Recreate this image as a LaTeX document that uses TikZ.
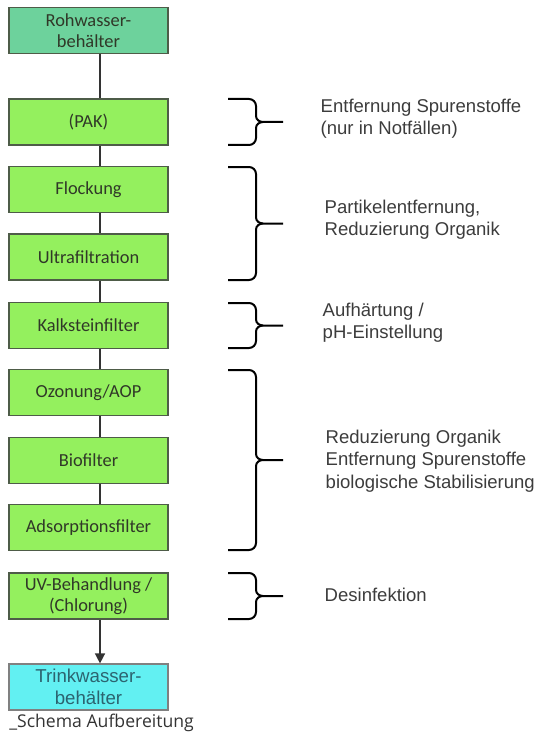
\documentclass[tikz,border=0pt]{standalone}
\usepackage{fontspec}
\setmainfont{Carlito}
\newfontfamily\arialfont{Liberation Sans}
\newfontfamily\capfont{Open Sans}
\usepackage{xcolor}
\usepackage{tikz}
\usetikzlibrary{arrows.meta}
\definecolor{wroh}{HTML}{6DD29C}
\definecolor{wstep}{HTML}{94F05E}
\definecolor{wtrink}{HTML}{62F0F2}
\definecolor{wedge}{HTML}{4E5C48}
\definecolor{wtext}{HTML}{303828}
\definecolor{wteal}{HTML}{2C6470}
\definecolor{wnote}{HTML}{3C3C3C}
\tikzset{
  wbox/.style={draw=wedge, line width=0.9pt, fill=wstep, text=wtext,
               minimum width=119.25pt, minimum height=34.5pt, inner sep=0pt,
               align=center, font=\fontsize{13.8}{15.75}\selectfont},
  wline/.style={draw=black!80, line width=1.1pt},
  wbrace/.style={draw=black, line width=1.5pt},
  wnotes/.style={anchor=west, align=left, text=wnote,
                 font=\arialfont\fontsize{13.9}{16.8}\selectfont},
}
% geschweifte Klammer von y=#1 bis y=#2
\newcommand{\wklammer}[2]{%
  \draw[wbrace] (228,#1) -- (249,#1) to[out=0,in=90] (256,{#1+7})
    -- (256,{(#1+#2)/2-6}) to[out=-90,in=180] (263,{(#1+#2)/2}) -- (283,{(#1+#2)/2});
  \draw[wbrace] (228,#2) -- (249,#2) to[out=0,in=-90] (256,{#2-7})
    -- (256,{(#1+#2)/2+6}) to[out=90,in=180] (263,{(#1+#2)/2});
}

\begin{document}
\begin{tikzpicture}[x=0.75pt,y=-0.75pt]

  \useasboundingbox (0,0) rectangle (533,738);

  % Verfahrensstufen
  \node[wbox, fill=wroh] (roh) at (88.5,30.5) {Rohwasser-\\behälter};
  \node[wbox] (pak)   at (88.5,122)   {(PAK)};
  \node[wbox] (flock) at (88.5,189.5) {Flockung};
  \node[wbox] (ultra) at (88.5,257)   {Ultrafiltration};
  \node[wbox] (kalk)  at (88.5,325.5) {Kalksteinfilter};
  \node[wbox] (ozon)  at (88.5,392.5) {Ozonung/AOP};
  \node[wbox] (bio)   at (88.5,460.5) {Biofilter};
  \node[wbox] (ads)   at (88.5,527.5) {Adsorptionsfilter};
  \node[wbox] (uv)    at (88.5,596)   {UV-Behandlung /\\(Chlorung)};
  \node[wbox, fill=wtrink, draw=gray, text=wteal,
        font=\arialfont\fontsize{14}{16.5}\selectfont] (trink) at (88.5,687) {Trinkwasser-\\behälter};

  % Verbindungen
  \coordinate (xl) at (100,0);
  \foreach \a/\b in {roh/pak, pak/flock, flock/ultra, ultra/kalk, kalk/ozon, ozon/bio, bio/ads}
    \draw[wline] (\a.south -| xl) -- (\b.north -| xl);
  \draw[wline, -{Triangle[length=7.5pt,width=7.5pt]}] (uv.south -| xl) -- (trink.north -| xl);

  % Klammern
  \wklammer{99}{145}
  \wklammer{167}{280}
  \wklammer{303}{348}
  \wklammer{370}{550}
  \wklammer{573}{619}

  % Erläuterungen
  \node[wnotes] (n1) at (316,119) {Entfernung Spurenstoffe\\(nur in Notfällen)};
  \node[wnotes] (n2) at (320,220) {Partikelentfernung,\\Reduzierung Organik};
  \node[wnotes] (n3) at (318,322.5) {Aufhärtung /\\pH-Einstellung};
  \node[wnotes] (n4) at (321,461) {Reduzierung Organik\\Entfernung Spurenstoffe\\biologische Stabilisierung};
  \node[wnotes] (n5) at (320,595) {Desinfektion};

  % Bildunterschrift
  \node[anchor=west, inner sep=0pt, text=black!80,
        font=\capfont\fontsize{13.2}{15}\selectfont] (cap) at (9,723) {\_Schema Aufbereitung};

\end{tikzpicture}
\end{document}
